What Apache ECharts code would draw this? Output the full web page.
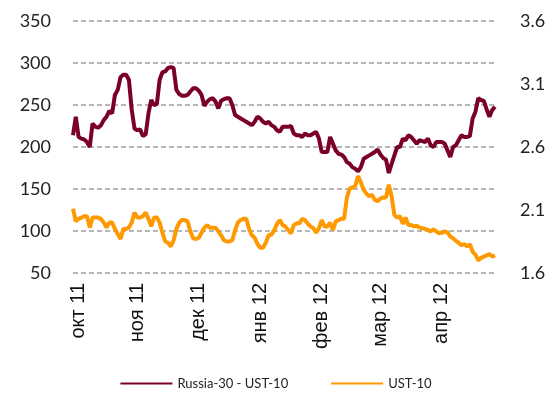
<!DOCTYPE html>
<html>
<head>
<meta charset="utf-8">
<script src="https://cdn.jsdelivr.net/npm/echarts@6/dist/echarts.min.js"></script>
<style>html,body{margin:0;padding:0;background:#fff;}#c{width:552px;height:405px;}</style>
</head>
<body>
<div id="c"></div>
<script>
// Trading days from 2011-09-29 to 2012-04-27
const startDate = '2011-09-29';
const dayCount = 152;
const monthNames = ['янв','фев','мар','апр','май','июн','июл','авг','сен','окт','ноя','дек'];
const seriesNames = ['Russia-30 - UST-10', 'UST-10'];
const leftTicks = [50, 100, 150, 200, 250, 300, 350];
const rightTicks = [1.6, 2.1, 2.6, 3.1, 3.6];

// Russia-30 - UST-10 spread (left axis)
const spread = [
214,236,212,210,209,206,200,228,224,223,
226,232,236,243,240,262,268,283,286,286,
280,245,222,220,221,213,215,240,256,250,
251,280,289,290,294,295,294,268,263,261,
261,262,266,270,270,267,262,249,254,257,
258,254,246,255,257,258,258,250,238,236,
234,232,230,228,226,230,236,234,230,228,
230,226,224,220,218,224,224,224,225,216,
214,214,212,216,214,214,216,218,210,194,
194,194,212,204,196,192,191,188,182,180,
176,174,171,176,186,188,190,192,194,197,
191,187,185,169,180,190,200,200,210,208,
214,212,208,204,208,207,206,210,202,200,
206,206,206,204,196,188,200,202,208,214,
212,212,213,234,242,258,256,255,245,236,
244,248];

// UST-10 yield (right axis)
const ust = [
2.11,2.01,2.03,2.04,2.05,2.05,1.96,2.04,2.04,2.04,
2.03,2.00,1.96,2.00,2.00,1.95,1.91,1.87,1.95,1.95,
1.96,2.00,2.08,2.04,2.04,2.05,2.08,2.03,1.97,2.04,
2.04,2.00,1.92,1.85,1.84,1.81,1.86,1.95,2.00,2.02,
2.02,2.01,1.93,1.875,1.87,1.88,1.92,1.96,1.98,1.96,
1.96,1.96,1.93,1.90,1.86,1.85,1.85,1.86,1.94,2.00,
2.02,2.03,2.03,1.95,1.90,1.88,1.83,1.80,1.80,1.84,
1.90,1.905,1.94,1.99,2.02,1.98,1.97,1.94,1.915,1.98,
1.994,1.994,2.03,2.02,1.99,1.97,1.955,1.92,1.955,2.02,
1.97,1.97,2.00,1.94,2.01,2.02,2.03,2.03,2.20,2.27,
2.28,2.29,2.37,2.32,2.26,2.23,2.21,2.22,2.18,2.17,
2.19,2.20,2.20,2.30,2.21,2.06,2.04,2.05,1.99,2.04,
1.98,1.98,1.97,1.975,1.96,1.955,1.95,1.94,1.93,1.945,
1.93,1.915,1.92,1.93,1.92,1.89,1.875,1.855,1.84,1.82,
1.83,1.81,1.828,1.77,1.745,1.70,1.72,1.73,1.74,1.75,
1.73,1.74];

// build trading-day categories
const dates = [];
(function(){
  const d = new Date(startDate + 'T00:00:00Z');
  while (dates.length < dayCount) {
    const wd = d.getUTCDay();
    if (wd !== 0 && wd !== 6) {
      dates.push(d.toISOString().slice(0,10));
    }
    d.setUTCDate(d.getUTCDate() + 1);
  }
})();
function isMonthStart(i) {
  if (i === 0) return false;
  return dates[i].slice(5,7) !== dates[i-1].slice(5,7);
}
function monthLabel(v) {
  const m = parseInt(v.slice(5,7), 10) - 1;
  return monthNames[m] + ' ' + v.slice(2,4);
}

const chart = echarts.init(document.getElementById('c'), null, {renderer: 'canvas'});
chart.setOption({
  animation: false,
  backgroundColor: '#ffffff',
  grid: {left: 73, right: 57, top: 21, bottom: 132, containLabel: false},
  legend: {
    bottom: 10,
    left: 'center',
    itemWidth: 52,
    itemHeight: 10,
    itemGap: 43,
    icon: 'path://M0,4 L52,4 L52,6 L0,6 Z',
    textStyle: {fontFamily: 'Lato', fontSize: 13, color: '#222'},
    data: seriesNames
  },
  xAxis: {
    type: 'category',
    data: dates,
    boundaryGap: false,
    axisLine: {show: false},
    axisTick: {show: false},
    splitLine: {show: false},
    axisLabel: {
      interval: function(i){ return isMonthStart(i); },
      rotate: 90,
      margin: 10,
      fontFamily: 'Liberation Sans',
      fontSize: 20,
      color: '#111',
      formatter: monthLabel
    }
  },
  yAxis: [
    {
      type: 'value',
      min: leftTicks[0],
      max: leftTicks[leftTicks.length-1],
      interval: 50,
      position: 'left',
      axisLine: {show: false},
      axisTick: {show: false},
      axisLabel: {margin: 22, fontFamily: 'Lato', fontSize: 18, color: '#222'},
      splitLine: {show: true, lineStyle: {color: '#a0a0a0', width: 1.5, type: [5, 3]}}
    },
    {
      type: 'value',
      min: rightTicks[0],
      max: rightTicks[rightTicks.length-1],
      position: 'right',
      axisLine: {show: false},
      axisTick: {show: false},
      splitLine: {show: false},
      axisLabel: {
        margin: 25, fontFamily: 'Lato', fontSize: 18, color: '#222',
        customValues: rightTicks,
        formatter: function(v){ return v.toFixed(1); }
      }
    }
  ],
  series: [
    {
      name: seriesNames[0],
      type: 'line',
      yAxisIndex: 0,
      data: spread,
      symbol: 'none',
      lineStyle: {color: '#7b0028', width: 4},
      itemStyle: {color: '#7b0028'}
    },
    {
      name: seriesNames[1],
      type: 'line',
      yAxisIndex: 1,
      data: ust,
      symbol: 'none',
      lineStyle: {color: '#ff9900', width: 4},
      itemStyle: {color: '#ff9900'}
    }
  ]
});
</script>
</body>
</html>
